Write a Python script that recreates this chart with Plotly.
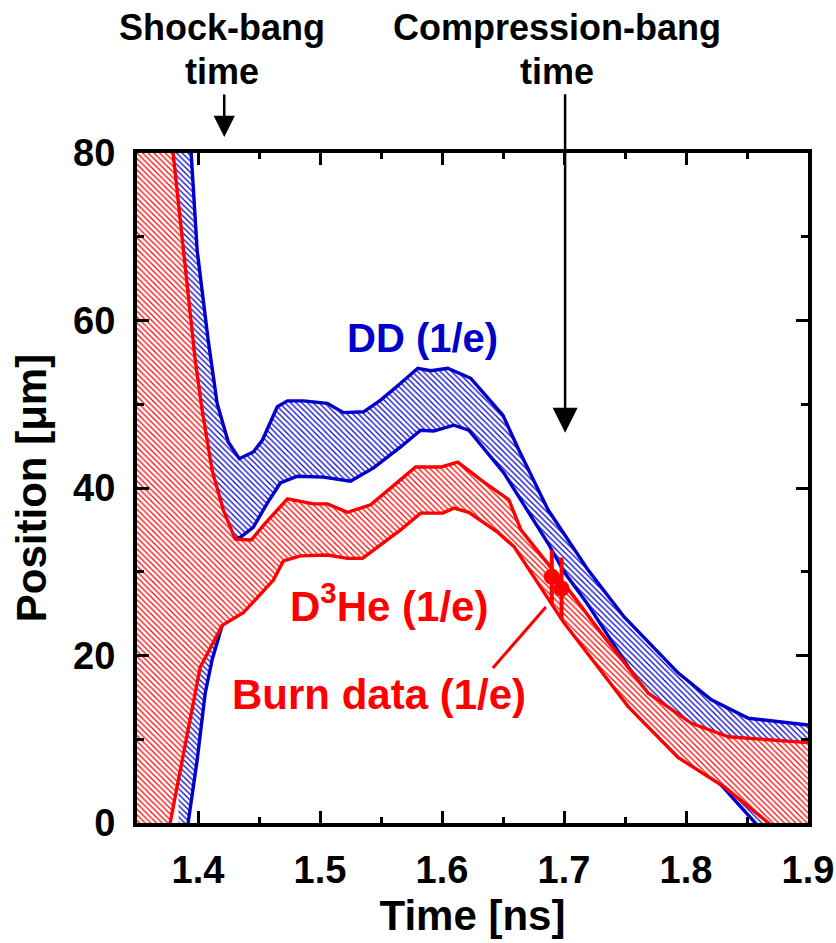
import plotly.graph_objects as go

# ---------------- data ----------------
# DD (1/e) band: outer (upper) and inner (lower) boundaries
dd_outer_t = [1.378, 1.3944, 1.3993, 1.4083, 1.4157, 1.4248, 1.4338, 1.4453, 1.4527, 1.4650,
              1.4733, 1.4864, 1.5061, 1.5193, 1.5357, 1.5497, 1.5661, 1.5801, 1.5908, 1.6047,
              1.6236, 1.6499, 1.6631, 1.6869, 1.7198, 1.7493, 1.7937, 1.8208, 1.8512, 1.9]
dd_outer_y = [101.0, 80.0, 68.4, 57.7, 50.1, 45.5, 43.5, 44.3, 45.7, 49.7,
              50.4, 50.4, 50.1, 49.0, 49.1, 50.5, 52.5, 54.3, 54.0, 54.3,
              53.1, 48.7, 44.5, 37.4, 30.2, 24.6, 17.9, 14.7, 12.5, 11.7]

dd_inner_t = [1.3845, 1.3919, 1.3993, 1.4059, 1.4116, 1.4166, 1.4198, 1.4322, 1.4346, 1.4453,
              1.4568, 1.4675, 1.4815, 1.5028, 1.5250, 1.5439, 1.5661, 1.5825, 1.5932, 1.6097,
              1.6220, 1.6507, 1.6869, 1.7000, 1.7181, 1.7691, 1.8044, 1.8315, 1.8562, 1.9]
dd_inner_y = [-6.8, 0.0, 7.5, 15.5, 19.5, 22.2, 23.6, 34.0, 34.1, 35.3,
              38.2, 40.6, 41.4, 41.3, 40.8, 42.4, 44.9, 46.9, 46.8, 47.5,
              46.9, 41.8, 33.4, 30.0, 26.4, 15.0, 8.1, 4.1, 0.0, -7.0]

# D3He (1/e) band: outer (upper) and inner (lower) boundaries
d3he_outer_t = [1.35, 1.3796, 1.3977, 1.4034, 1.4116, 1.4207, 1.4305, 1.4437, 1.4552, 1.4733,
                1.4946, 1.5061, 1.5226, 1.5415, 1.5661, 1.5784, 1.5990, 1.6129, 1.6343, 1.6548,
                1.6647, 1.6869, 1.7083, 1.7304, 1.7691, 1.8044, 1.8348, 1.9]
d3he_outer_y = [118.7, 80.0, 55.3, 49.3, 42.1, 37.4, 33.9, 33.8, 35.8, 38.7,
                38.1, 38.1, 37.1, 38.0, 41.0, 42.5, 42.5, 43.1, 40.7, 38.6,
                35.0, 31.0, 27.0, 22.7, 15.5, 11.9, 10.3, 9.6]

d3he_inner_t = [1.35, 1.3771, 1.4018, 1.4198, 1.4371, 1.4618, 1.4700, 1.4839, 1.5061, 1.5226,
                1.5349, 1.5661, 1.5825, 1.6006, 1.6097, 1.6220, 1.6458, 1.6590, 1.6787, 1.7000,
                1.7280, 1.7526, 1.7937, 1.8315, 1.8677, 1.9]
d3he_inner_y = [-20.5, 0.0, 18.6, 23.6, 25.1, 29.0, 31.3, 31.9, 32.0, 31.6,
                31.6, 35.0, 37.0, 37.0, 37.6, 37.1, 34.7, 33.0, 28.7, 23.9,
                18.6, 13.9, 7.8, 4.3, 0.0, -4.2]

# Burn data (1/e)
burn_t = [1.690, 1.698]
burn_y = [29.4, 28.0]
burn_err = [3.2, 3.7]

# Axis ticks
x_ticks = [1.4, 1.5, 1.6, 1.7, 1.8, 1.9]
y_ticks = [0, 20, 40, 60, 80]

# Event times
shock_bang_t = 1.4215
compression_bang_t = 1.7009

BLUE = "#0000cc"
RED = "#ff0000"
FONT = "Liberation Sans, Arial, sans-serif"

fig = go.Figure()


def band(t_up, y_up, t_lo, y_lo, color):
    return go.Scatter(
        x=list(t_up) + list(t_lo)[::-1],
        y=list(y_up) + list(y_lo)[::-1],
        mode="none", fill="toself", fillcolor="white",
        fillpattern=dict(shape="\\", fgcolor=color, bgcolor="white",
                         size=4, solidity=0.3, fillmode="replace"),
        hoverinfo="skip", showlegend=False)


def line(t, y, color):
    return go.Scatter(x=t, y=y, mode="lines", line=dict(color=color, width=3.4),
                      hoverinfo="skip", showlegend=False)


# DD band (drawn first, partially hidden by D3He band)
fig.add_trace(band(dd_outer_t, dd_outer_y, dd_inner_t, dd_inner_y, BLUE))
fig.add_trace(line(dd_outer_t, dd_outer_y, BLUE))
fig.add_trace(line(dd_inner_t, dd_inner_y, BLUE))
# D3He band
fig.add_trace(band(d3he_outer_t, d3he_outer_y, d3he_inner_t, d3he_inner_y, RED))
fig.add_trace(line(d3he_outer_t, d3he_outer_y, RED))
fig.add_trace(line(d3he_inner_t, d3he_inner_y, RED))
# burn data
fig.add_trace(go.Scatter(
    x=burn_t, y=burn_y, mode="markers",
    marker=dict(color=RED, size=16, symbol="circle"),
    error_y=dict(type="data", array=burn_err, color=RED, thickness=4, width=0),
    hoverinfo="skip", showlegend=False))

bold = dict(family=FONT, weight="bold")


def label(x, y, text, size, color, yref="y"):
    return dict(x=x, y=y, yref=yref, text=text, showarrow=False,
                xanchor="center", yanchor="middle",
                font=dict(**bold, size=size, color=color))


annotations = [
    label(1.5842, 57.9, "DD (1/e)", 40, BLUE),
    label(1.5562, 26.3, "D<sup>3</sup>He (1/e)", 42, RED),
    label(1.5480, 15.3, "Burn data (1/e)", 42, RED),
    # top labels (paper coordinates, above the plot)
    label(1.4198, 1.1866, "Shock-bang", 36, "black", yref="paper"),
    label(1.4198, 1.1209, "time", 36, "black", yref="paper"),
    label(1.6943, 1.1866, "Compression-bang", 36, "black", yref="paper"),
    label(1.6943, 1.1209, "time", 36, "black", yref="paper"),
    # vertical arrows marking the bang times
    dict(x=shock_bang_t, y=1.0239, yref="paper", ax=0, ay=-44,
         showarrow=True, arrowhead=2, arrowsize=1.7, arrowwidth=2.5,
         arrowcolor="black", text=""),
    dict(x=compression_bang_t, y=46.6, ax=0, ay=-340,
         showarrow=True, arrowhead=2, arrowsize=2.0, arrowwidth=2.5,
         arrowcolor="black", text=""),
]

# leader line from the "Burn data" label to the burn data points
shapes = [
    dict(type="line", xref="x", yref="y", x0=1.6417, y0=18.5, x1=1.6852, y1=25.8,
         line=dict(color=RED, width=3)),
]

fig.update_layout(
    width=836, height=943,
    margin=dict(l=137, r=28, t=153, b=120, autoexpand=False),
    paper_bgcolor="white", plot_bgcolor="white",
    font=dict(family=FONT, color="black"),
    annotations=annotations, shapes=shapes,
    showlegend=False,
)

axis_common = dict(
    showgrid=False, zeroline=False, automargin=False,
    showline=True, linecolor="black", linewidth=4, mirror="allticks",
    ticks="inside", ticklen=12, tickwidth=3, tickcolor="black",
    tickfont=dict(**bold, size=38, color="black"),
)

fig.update_xaxes(
    **axis_common,
    range=[1.35, 1.9], tickvals=x_ticks, ticktext=[f"{v:.1f}" for v in x_ticks],
    minor=dict(dtick=0.05, tick0=1.35, ticks="inside", ticklen=6, tickwidth=3,
               tickcolor="black", showgrid=False),
    ticklabelstandoff=10,
    title=dict(text="Time [ns]", font=dict(**bold, size=42, color="black"), standoff=12),
)
fig.update_yaxes(
    **axis_common,
    range=[0, 80], tickvals=y_ticks, ticktext=[str(v) for v in y_ticks],
    minor=dict(dtick=10, tick0=0, ticks="inside", ticklen=7, tickwidth=3,
               tickcolor="black", showgrid=False),
    ticklabelstandoff=10,
    title=dict(text="Position [μm]", font=dict(**bold, size=42, color="black"), standoff=14),
)

fig.write_html("out.html")
